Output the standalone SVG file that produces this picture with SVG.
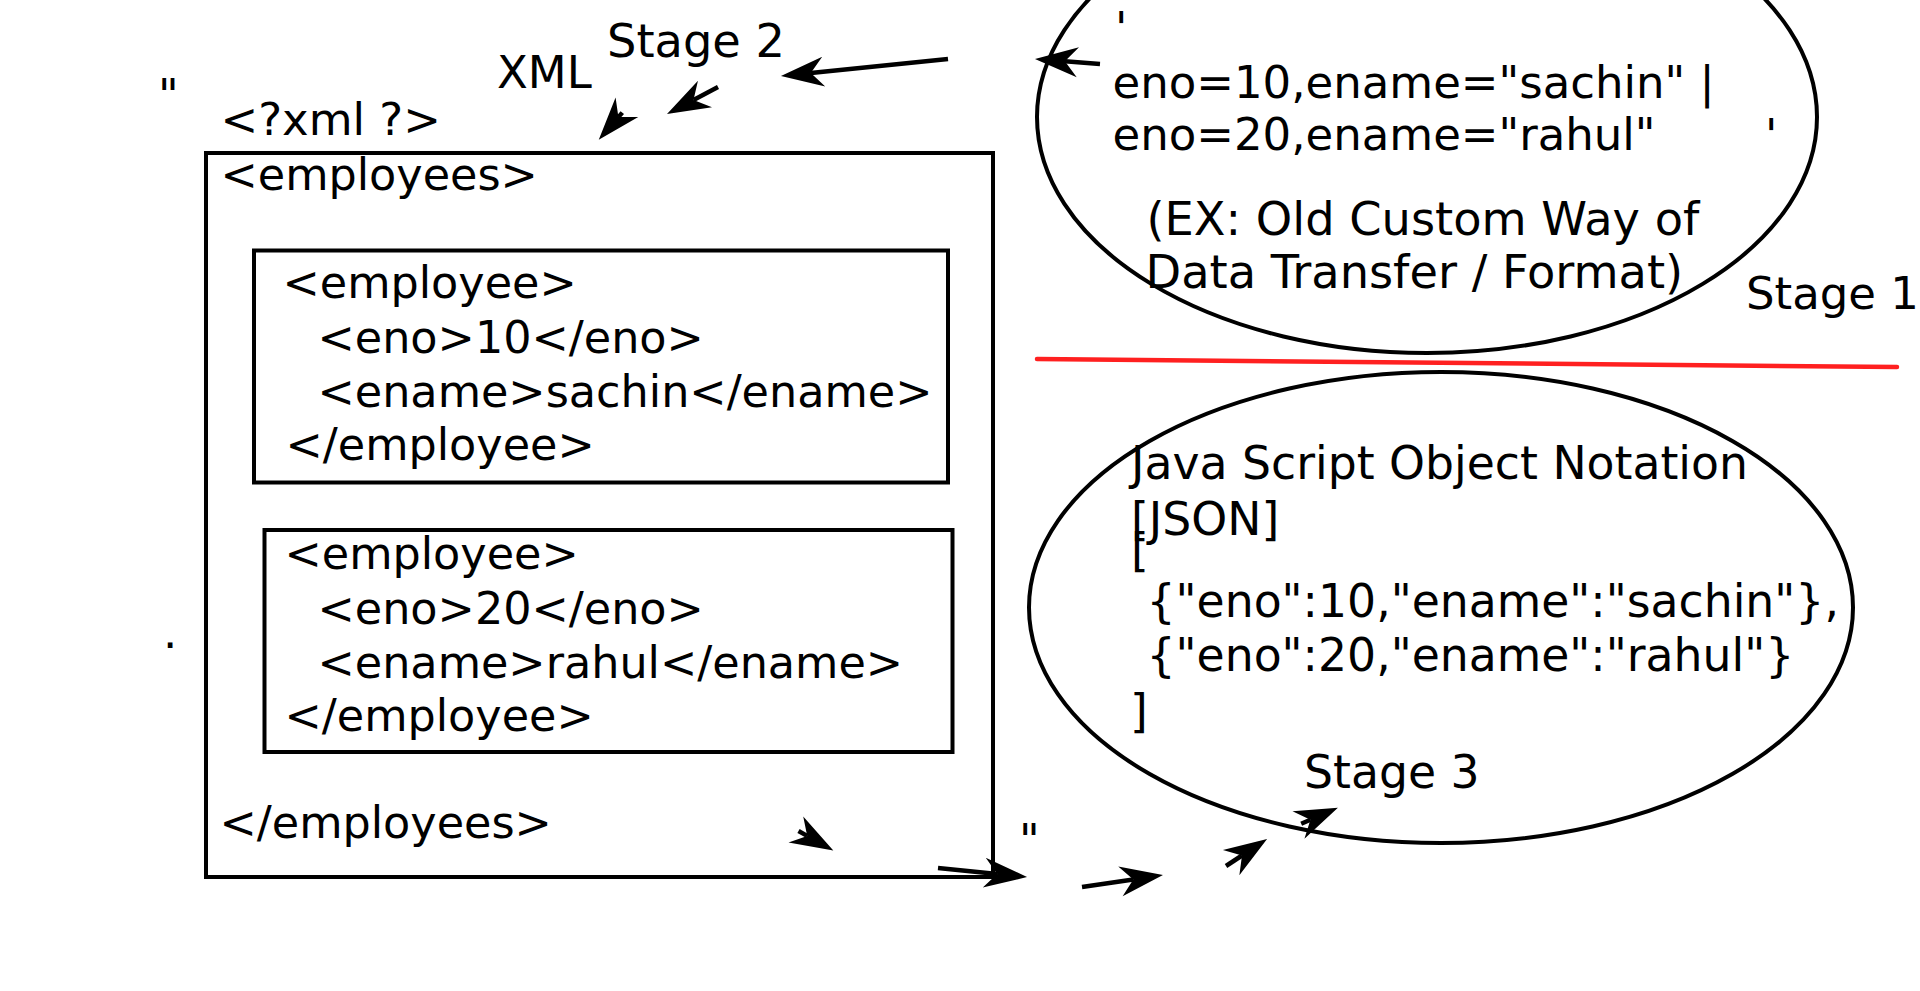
<svg xmlns="http://www.w3.org/2000/svg" width="1920" height="991" viewBox="0 0 1920 991">
  <style>
    text { font-family: "DejaVu Sans", "Liberation Sans", sans-serif; font-size: 45px; fill: #000; }
    .xc { font-size: 44.5px; }
    .jc { font-size: 45.7px; }
    .ex { font-size: 46.3px; }
    .box { fill: none; stroke: #000; stroke-width: 4; }
    .ell { fill: none; stroke: #000; stroke-width: 4; }
    .conn { stroke: #000; stroke-width: 4.5; fill: none; marker-end: url(#ah); }
    .sep { stroke: #ff2020; stroke-width: 4.5; stroke-linecap: round; }
  </style>
  <defs>
    <marker id="ah" markerUnits="userSpaceOnUse" markerWidth="44" markerHeight="31" refX="13" refY="15" orient="auto" overflow="visible">
      <path d="M0,0 L43,15 L0,30 L13,15 Z" fill="#000"/>
    </marker>
  </defs>
  <rect width="1920" height="991" fill="#fff"/>

  <g id="labels">
    <text x="158" y="111">"</text>
    <text x="497" y="88">XML</text>
    <text class="ex" x="607" y="57">Stage 2</text>
    <text x="163" y="648">.</text>
    <text x="1019" y="856">"</text>
    <text x="1746" y="309">Stage 1</text>
    <text class="jc" x="1304" y="788">Stage 3</text>
  </g>

  <g id="xml-document">
    <rect class="box" x="206" y="153" width="787" height="724"/>
    <text x="220.5" y="135">&lt;?xml ?&gt;</text>
    <text class="xc" x="220.5" y="190">&lt;employees&gt;</text>
    <text class="xc" x="219.5" y="838">&lt;/employees&gt;</text>
  </g>

  <g id="employee-1">
    <rect class="box" x="254" y="250.5" width="694" height="232"/>
    <text class="xc" x="282.5" y="298">&lt;employee&gt;</text>
    <text class="xc" x="317.5" y="353">&lt;eno&gt;10&lt;/eno&gt;</text>
    <text class="xc" x="317.5" y="407">&lt;ename&gt;sachin&lt;/ename&gt;</text>
    <text class="xc" x="285.5" y="460">&lt;/employee&gt;</text>
  </g>

  <g id="employee-2">
    <rect class="box" x="264.5" y="530" width="688" height="222"/>
    <text class="xc" x="284.5" y="569">&lt;employee&gt;</text>
    <text class="xc" x="317.5" y="624">&lt;eno&gt;20&lt;/eno&gt;</text>
    <text class="xc" x="317.5" y="678">&lt;ename&gt;rahul&lt;/ename&gt;</text>
    <text class="xc" x="284.5" y="731">&lt;/employee&gt;</text>
  </g>

  <g id="custom-format">
    <ellipse class="ell" cx="1427" cy="117" rx="390" ry="236"/>
    <text x="1115" y="44">'</text>
    <text x="1112.5" y="98">eno=10,ename="sachin" |</text>
    <text x="1112.5" y="150">eno=20,ename="rahul"</text>
    <text x="1765" y="151">'</text>
    <text class="ex" x="1146.5" y="235">(EX: Old Custom Way of</text>
    <text class="ex" x="1145.5" y="288">Data Transfer / Format)</text>
  </g>

  <g id="separator">
    <line class="sep" x1="1037" y1="359" x2="1897" y2="367"/>
  </g>

  <g id="json">
    <ellipse class="ell" cx="1441" cy="607.5" rx="412" ry="235.5"/>
    <text class="jc" x="1131" y="479">Java Script Object Notation</text>
    <text class="jc" x="1131" y="535">[JSON]</text>
    <text class="jc" x="1131" y="566">[</text>
    <text class="jc" x="1146.5" y="617">{"eno":10,"ename":"sachin"},</text>
    <text class="jc" x="1146.5" y="671">{"eno":20,"ename":"rahul"}</text>
    <text class="jc" x="1130" y="727">]</text>
  </g>

  <g id="connectors">
    <line class="conn" x1="948" y1="59" x2="810.8" y2="73"/>
    <line class="conn" x1="1100" y1="64" x2="1064.9" y2="61.3"/>
    <line class="conn" x1="718" y1="87" x2="693.5" y2="100"/>
    <line class="conn" x1="622.3" y1="112.6" x2="618.4" y2="117.1"/>
    <line class="conn" x1="798.5" y1="831" x2="807.2" y2="835.9"/>
    <line class="conn" x1="938" y1="868" x2="997.2" y2="874"/>
    <line class="conn" x1="1082" y1="887" x2="1133.3" y2="879.4"/>
    <line class="conn" x1="1226" y1="866" x2="1242" y2="855.5"/>
    <line class="conn" x1="1301.2" y1="823.8" x2="1310.4" y2="819.8"/>
  </g>
</svg>
